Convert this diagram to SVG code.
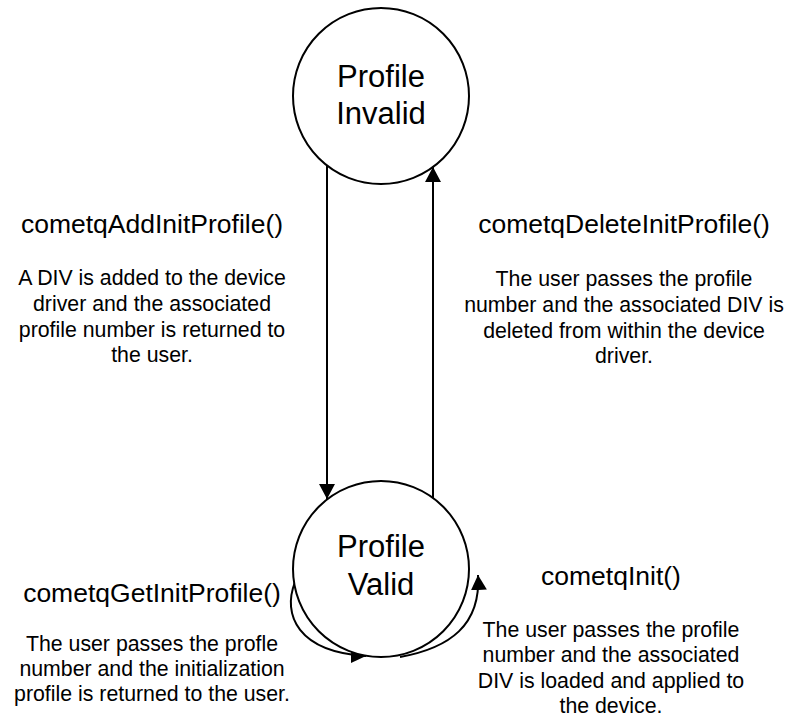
<svg xmlns="http://www.w3.org/2000/svg" width="788" height="717" viewBox="0 0 788 717">
<style>
.state{fill:#fff;stroke:#000;stroke-width:2}
.lbl{font-family:"Liberation Sans",Arial,sans-serif;font-size:31px;text-anchor:middle;fill:#000}
.title{font-family:"Liberation Sans",Arial,sans-serif;font-size:26.5px;text-anchor:middle;fill:#000}
.body{font-family:"Liberation Sans",Arial,sans-serif;font-size:21.3px;text-anchor:middle;fill:#000}
.conn{fill:none;stroke:#000;stroke-width:2;marker-end:url(#arr)}
</style>
<defs>
<marker id="arr" viewBox="0 0 15 16" refX="15" refY="8" markerWidth="15" markerHeight="16" markerUnits="userSpaceOnUse" orient="auto">
<path d="M0,0 L15,8 L0,16 z" fill="#000"/>
</marker>
</defs>
<rect width="788" height="717" fill="#fff"/>
<g id="connectors">
<path class="conn" d="M327,166 L327,499"/>
<path class="conn" d="M433,498 L433,167"/>
<path class="conn" d="M295,582 C282,615 298,652 366,656"/>
<path class="conn" d="M400,657 C450,648 481,625 478,575"/>
</g>
<g id="profile-invalid">
<circle class="state" cx="381" cy="96" r="88"/>
<text class="lbl" x="381" y="87">Profile</text>
<text class="lbl" x="381" y="124">Invalid</text>
</g>
<g id="profile-valid">
<circle class="state" cx="381" cy="569" r="88"/>
<text class="lbl" x="381" y="557">Profile</text>
<text class="lbl" x="381" y="595">Valid</text>
</g>
<g id="label-add">
<text class="title" x="152" y="233">cometqAddInitProfile()</text>
<text class="body" x="152" y="285">A DIV is added to the device</text>
<text class="body" x="152" y="311">driver and the associated</text>
<text class="body" x="152" y="337">profile number is returned to</text>
<text class="body" x="152" y="362">the user.</text>
</g>
<g id="label-delete">
<text class="title" x="624" y="233">cometqDeleteInitProfile()</text>
<text class="body" x="624" y="286">The user passes the profile</text>
<text class="body" x="624" y="312">number and the associated DIV is</text>
<text class="body" x="624" y="338">deleted from within the device</text>
<text class="body" x="624" y="363">driver.</text>
</g>
<g id="label-get">
<text class="title" x="152" y="602">cometqGetInitProfile()</text>
<text class="body" x="152" y="651">The user passes the profle</text>
<text class="body" x="152" y="676">number and the initialization</text>
<text class="body" x="152" y="701">profile is returned to the user.</text>
</g>
<g id="label-init">
<text class="title" x="611" y="585">cometqInit()</text>
<text class="body" x="611" y="637">The user passes the profile</text>
<text class="body" x="611" y="662">number and the associated</text>
<text class="body" x="611" y="688">DIV is loaded and applied to</text>
<text class="body" x="611" y="713">the device.</text>
</g>
</svg>
